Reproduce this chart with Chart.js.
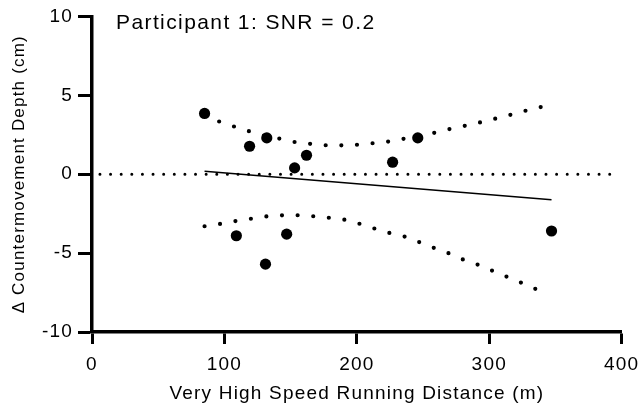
<!DOCTYPE html>
<html>
<head>
<meta charset="utf-8">
<script src="https://cdn.jsdelivr.net/npm/chart.js@4/dist/chart.umd.min.js"></script>
<style>
  html, body { margin: 0; padding: 0; background: #fff; }
  canvas { display: block; }
</style>
</head>
<body>
<canvas id="c" width="641" height="409"></canvas>
<script>
// Observed sessions: very high speed running distance (m) vs change in countermovement depth (cm)
const distance = [85, 119, 132, 153, 162, 227, 246, 109, 131, 147, 347];
const depthChange = [3.85, 1.77, 2.3, 0.4, 1.2, 0.76, 2.3, -3.9, -5.7, -3.8, -3.6];

// Fitted regression line end points
const fitX = [85, 347];
const fitY = [0.19, -1.62];

// Upper and lower band of the fit
const upperX = [85, 96, 108, 119, 130, 142, 153, 165, 177, 189, 201, 213, 225, 237, 248, 260, 272, 283, 295, 307, 319, 330, 341];
const upperY = [3.7, 3.34, 3.0, 2.71, 2.45, 2.25, 2.04, 1.92, 1.83, 1.83, 1.87, 1.97, 2.08, 2.27, 2.45, 2.65, 2.9, 3.09, 3.32, 3.57, 3.83, 4.08, 4.3];
const lowerX = [85, 97, 109, 121, 132, 145, 156, 168, 180, 192, 204, 215, 226, 238, 249, 260, 271, 281, 293, 304, 315, 325, 336];
const lowerY = [-3.3, -3.15, -2.96, -2.81, -2.67, -2.6, -2.6, -2.67, -2.77, -2.9, -3.19, -3.49, -3.76, -3.99, -4.37, -4.73, -5.06, -5.44, -5.78, -6.18, -6.56, -6.91, -7.31];

// Zero reference line
const zeroX = [6, 393];
const zeroY = [0, 0];

// Axis ticks
const xTicks = [0, 100, 200, 300, 400];
const yTicks = [-10, -5, 0, 5, 10];

const titleText = 'Participant 1: SNR = 0.2';
const xTitle = 'Very High Speed Running Distance (m)';
const yTitle = '\u0394 Countermovement Depth (cm)';

const FONT = '"Liberation Sans", Arial, Helvetica, sans-serif';

const pts = (xs, ys) => xs.map((x, i) => ({ x, y: ys[i] }));

const textSpacing = {
  id: 'textSpacing',
  beforeDraw(chart) {
    chart.ctx.letterSpacing = '1.2px';
  }
};

const plotTitle = {
  id: 'plotTitle',
  afterDraw(chart) {
    const ctx = chart.ctx;
    ctx.save();
    ctx.letterSpacing = '1.4px';
    ctx.font = '21px ' + FONT;
    ctx.fillStyle = '#000';
    ctx.textAlign = 'left';
    ctx.textBaseline = 'alphabetic';
    ctx.fillText(titleText, 116, 29);
    ctx.restore();
  }
};

const bandStyle = {
  type: 'line', showLine: true, borderColor: '#000', borderWidth: 4.2,
  borderDash: [0, 15.65], borderCapStyle: 'round', pointRadius: 0, tension: 0
};

new Chart(document.getElementById('c'), {
  type: 'scatter',
  data: {
    datasets: [
      {
        type: 'line', data: pts(zeroX, zeroY), showLine: true,
        borderColor: '#000', borderWidth: 3, borderDash: [0, 10.62], borderCapStyle: 'round',
        pointRadius: 0
      },
      Object.assign({ data: pts(upperX, upperY) }, bandStyle),
      Object.assign({ data: pts(lowerX, lowerY) }, bandStyle),
      {
        type: 'line', data: pts(fitX, fitY), showLine: true,
        borderColor: '#000', borderWidth: 1.6, pointRadius: 0
      },
      {
        data: pts(distance, depthChange),
        backgroundColor: '#000', borderColor: '#000', pointRadius: 5.6, borderWidth: 0
      }
    ]
  },
  options: {
    responsive: false,
    devicePixelRatio: 1,
    animation: false,
    layout: { padding: { top: 15, right: 0, left: 0, bottom: 0 } },
    plugins: { legend: { display: false }, tooltip: { enabled: false } },
    scales: {
      x: {
        type: 'linear', min: 0, max: 400,
        afterFit: s => { s.height = 77; s.paddingLeft = 0; s.paddingRight = 19.3; },
        afterBuildTicks: s => { s.ticks = xTicks.map(v => ({ value: v })); },
        border: { display: true, color: '#000', width: 3.5 },
        grid: { display: true, drawOnChartArea: false, drawTicks: true, tickLength: 12, tickWidth: 3, tickColor: '#000', color: '#000' },
        ticks: { color: '#000', font: { family: FONT, size: 19 }, padding: 9, maxRotation: 0 },
        title: { display: true, text: xTitle, color: '#000', font: { family: FONT, size: 19 }, padding: { top: 0, bottom: 4 } }
      },
      y: {
        type: 'linear', min: -10, max: 10,
        afterFit: s => { s.width = 92; },
        afterBuildTicks: s => { s.ticks = yTicks.map(v => ({ value: v })); },
        border: { display: true, color: '#000', width: 3.5 },
        grid: { display: true, drawOnChartArea: false, drawTicks: true, tickLength: 14, tickWidth: 3, tickColor: '#000', color: '#000' },
        ticks: { color: '#000', font: { family: FONT, size: 19 }, padding: 5 },
        title: { display: true, text: yTitle, color: '#000', font: { family: FONT, size: 17 }, padding: { top: 9, bottom: 0 } }
      }
    }
  },
  plugins: [textSpacing, plotTitle]
});
</script>
</body>
</html>
